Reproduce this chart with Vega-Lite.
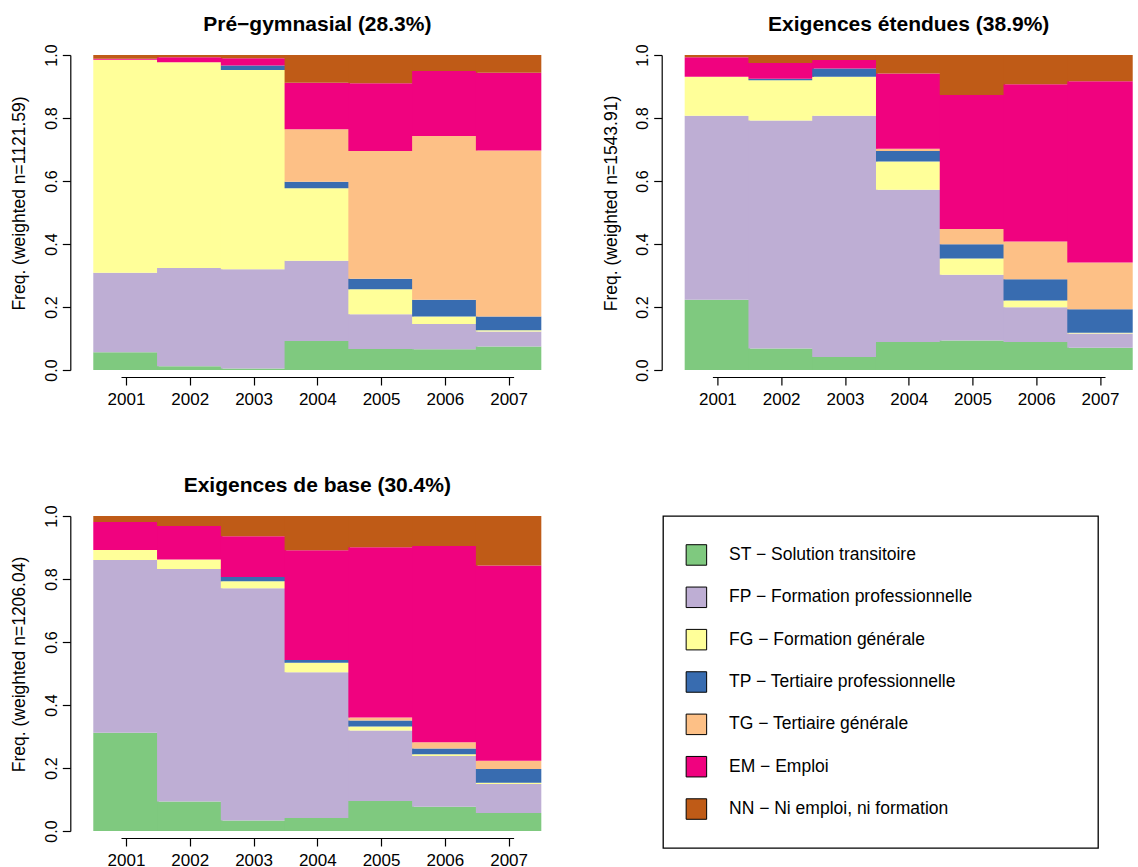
{
  "$schema": "https://vega.github.io/schema/vega-lite/v6.json",
  "padding": {"left": 10, "top": 13, "right": 0, "bottom": 0},
  "background": "white",
  "datasets": {
    "seq": [
      {"g":"P","y":2001,"s":"ST","o":1,"f":0.056},{"g":"P","y":2001,"s":"FP","o":2,"f":0.253},{"g":"P","y":2001,"s":"FG","o":3,"f":0.676},{"g":"P","y":2001,"s":"EM","o":6,"f":0.003},{"g":"P","y":2001,"s":"NN","o":7,"f":0.012},
      {"g":"P","y":2002,"s":"ST","o":1,"f":0.012},{"g":"P","y":2002,"s":"FP","o":2,"f":0.312},{"g":"P","y":2002,"s":"FG","o":3,"f":0.653},{"g":"P","y":2002,"s":"EM","o":6,"f":0.016},{"g":"P","y":2002,"s":"NN","o":7,"f":0.007},
      {"g":"P","y":2003,"s":"ST","o":1,"f":0.005},{"g":"P","y":2003,"s":"FP","o":2,"f":0.315},{"g":"P","y":2003,"s":"FG","o":3,"f":0.632},{"g":"P","y":2003,"s":"TP","o":4,"f":0.015},{"g":"P","y":2003,"s":"EM","o":6,"f":0.023},{"g":"P","y":2003,"s":"NN","o":7,"f":0.010},
      {"g":"P","y":2004,"s":"ST","o":1,"f":0.092},{"g":"P","y":2004,"s":"FP","o":2,"f":0.255},{"g":"P","y":2004,"s":"FG","o":3,"f":0.230},{"g":"P","y":2004,"s":"TP","o":4,"f":0.021},{"g":"P","y":2004,"s":"TG","o":5,"f":0.166},{"g":"P","y":2004,"s":"EM","o":6,"f":0.148},{"g":"P","y":2004,"s":"NN","o":7,"f":0.088},
      {"g":"P","y":2005,"s":"ST","o":1,"f":0.067},{"g":"P","y":2005,"s":"FP","o":2,"f":0.110},{"g":"P","y":2005,"s":"FG","o":3,"f":0.079},{"g":"P","y":2005,"s":"TP","o":4,"f":0.034},{"g":"P","y":2005,"s":"TG","o":5,"f":0.405},{"g":"P","y":2005,"s":"EM","o":6,"f":0.215},{"g":"P","y":2005,"s":"NN","o":7,"f":0.090},
      {"g":"P","y":2006,"s":"ST","o":1,"f":0.066},{"g":"P","y":2006,"s":"FP","o":2,"f":0.080},{"g":"P","y":2006,"s":"FG","o":3,"f":0.024},{"g":"P","y":2006,"s":"TP","o":4,"f":0.053},{"g":"P","y":2006,"s":"TG","o":5,"f":0.520},{"g":"P","y":2006,"s":"EM","o":6,"f":0.206},{"g":"P","y":2006,"s":"NN","o":7,"f":0.051},
      {"g":"P","y":2007,"s":"ST","o":1,"f":0.075},{"g":"P","y":2007,"s":"FP","o":2,"f":0.047},{"g":"P","y":2007,"s":"FG","o":3,"f":0.004},{"g":"P","y":2007,"s":"TP","o":4,"f":0.044},{"g":"P","y":2007,"s":"TG","o":5,"f":0.527},{"g":"P","y":2007,"s":"EM","o":6,"f":0.247},{"g":"P","y":2007,"s":"NN","o":7,"f":0.056},

      {"g":"E","y":2001,"s":"ST","o":1,"f":0.223},{"g":"E","y":2001,"s":"FP","o":2,"f":0.584},{"g":"E","y":2001,"s":"FG","o":3,"f":0.124},{"g":"E","y":2001,"s":"EM","o":6,"f":0.062},{"g":"E","y":2001,"s":"NN","o":7,"f":0.007},
      {"g":"E","y":2002,"s":"ST","o":1,"f":0.068},{"g":"E","y":2002,"s":"FP","o":2,"f":0.724},{"g":"E","y":2002,"s":"FG","o":3,"f":0.128},{"g":"E","y":2002,"s":"TP","o":4,"f":0.005},{"g":"E","y":2002,"s":"EM","o":6,"f":0.050},{"g":"E","y":2002,"s":"NN","o":7,"f":0.025},
      {"g":"E","y":2003,"s":"ST","o":1,"f":0.041},{"g":"E","y":2003,"s":"FP","o":2,"f":0.766},{"g":"E","y":2003,"s":"FG","o":3,"f":0.124},{"g":"E","y":2003,"s":"TP","o":4,"f":0.026},{"g":"E","y":2003,"s":"EM","o":6,"f":0.027},{"g":"E","y":2003,"s":"NN","o":7,"f":0.016},
      {"g":"E","y":2004,"s":"ST","o":1,"f":0.089},{"g":"E","y":2004,"s":"FP","o":2,"f":0.483},{"g":"E","y":2004,"s":"FG","o":3,"f":0.090},{"g":"E","y":2004,"s":"TP","o":4,"f":0.033},{"g":"E","y":2004,"s":"TG","o":5,"f":0.007},{"g":"E","y":2004,"s":"EM","o":6,"f":0.239},{"g":"E","y":2004,"s":"NN","o":7,"f":0.059},
      {"g":"E","y":2005,"s":"ST","o":1,"f":0.094},{"g":"E","y":2005,"s":"FP","o":2,"f":0.208},{"g":"E","y":2005,"s":"FG","o":3,"f":0.052},{"g":"E","y":2005,"s":"TP","o":4,"f":0.045},{"g":"E","y":2005,"s":"TG","o":5,"f":0.049},{"g":"E","y":2005,"s":"EM","o":6,"f":0.425},{"g":"E","y":2005,"s":"NN","o":7,"f":0.127},
      {"g":"E","y":2006,"s":"ST","o":1,"f":0.089},{"g":"E","y":2006,"s":"FP","o":2,"f":0.110},{"g":"E","y":2006,"s":"FG","o":3,"f":0.022},{"g":"E","y":2006,"s":"TP","o":4,"f":0.067},{"g":"E","y":2006,"s":"TG","o":5,"f":0.120},{"g":"E","y":2006,"s":"EM","o":6,"f":0.499},{"g":"E","y":2006,"s":"NN","o":7,"f":0.093},
      {"g":"E","y":2007,"s":"ST","o":1,"f":0.071},{"g":"E","y":2007,"s":"FP","o":2,"f":0.045},{"g":"E","y":2007,"s":"FG","o":3,"f":0.002},{"g":"E","y":2007,"s":"TP","o":4,"f":0.075},{"g":"E","y":2007,"s":"TG","o":5,"f":0.148},{"g":"E","y":2007,"s":"EM","o":6,"f":0.576},{"g":"E","y":2007,"s":"NN","o":7,"f":0.083},

      {"g":"B","y":2001,"s":"ST","o":1,"f":0.312},{"g":"B","y":2001,"s":"FP","o":2,"f":0.548},{"g":"B","y":2001,"s":"FG","o":3,"f":0.032},{"g":"B","y":2001,"s":"EM","o":6,"f":0.089},{"g":"B","y":2001,"s":"NN","o":7,"f":0.019},
      {"g":"B","y":2002,"s":"ST","o":1,"f":0.094},{"g":"B","y":2002,"s":"FP","o":2,"f":0.738},{"g":"B","y":2002,"s":"FG","o":3,"f":0.030},{"g":"B","y":2002,"s":"EM","o":6,"f":0.106},{"g":"B","y":2002,"s":"NN","o":7,"f":0.032},
      {"g":"B","y":2003,"s":"ST","o":1,"f":0.033},{"g":"B","y":2003,"s":"FP","o":2,"f":0.738},{"g":"B","y":2003,"s":"FG","o":3,"f":0.022},{"g":"B","y":2003,"s":"TP","o":4,"f":0.013},{"g":"B","y":2003,"s":"EM","o":6,"f":0.130},{"g":"B","y":2003,"s":"NN","o":7,"f":0.064},
      {"g":"B","y":2004,"s":"ST","o":1,"f":0.041},{"g":"B","y":2004,"s":"FP","o":2,"f":0.463},{"g":"B","y":2004,"s":"FG","o":3,"f":0.030},{"g":"B","y":2004,"s":"TP","o":4,"f":0.009},{"g":"B","y":2004,"s":"EM","o":6,"f":0.348},{"g":"B","y":2004,"s":"NN","o":7,"f":0.109},
      {"g":"B","y":2005,"s":"ST","o":1,"f":0.095},{"g":"B","y":2005,"s":"FP","o":2,"f":0.224},{"g":"B","y":2005,"s":"FG","o":3,"f":0.013},{"g":"B","y":2005,"s":"TP","o":4,"f":0.019},{"g":"B","y":2005,"s":"TG","o":5,"f":0.009},{"g":"B","y":2005,"s":"EM","o":6,"f":0.541},{"g":"B","y":2005,"s":"NN","o":7,"f":0.099},
      {"g":"B","y":2006,"s":"ST","o":1,"f":0.077},{"g":"B","y":2006,"s":"FP","o":2,"f":0.161},{"g":"B","y":2006,"s":"FG","o":3,"f":0.006},{"g":"B","y":2006,"s":"TP","o":4,"f":0.018},{"g":"B","y":2006,"s":"TG","o":5,"f":0.020},{"g":"B","y":2006,"s":"EM","o":6,"f":0.623},{"g":"B","y":2006,"s":"NN","o":7,"f":0.095},
      {"g":"B","y":2007,"s":"ST","o":1,"f":0.057},{"g":"B","y":2007,"s":"FP","o":2,"f":0.092},{"g":"B","y":2007,"s":"FG","o":3,"f":0.004},{"g":"B","y":2007,"s":"TP","o":4,"f":0.044},{"g":"B","y":2007,"s":"TG","o":5,"f":0.026},{"g":"B","y":2007,"s":"EM","o":6,"f":0.620},{"g":"B","y":2007,"s":"NN","o":7,"f":0.157}
    ],
    "leg": [
      {"s":"ST","lab":"ST − Solution transitoire"},
      {"s":"FP","lab":"FP − Formation professionnelle"},
      {"s":"FG","lab":"FG − Formation générale"},
      {"s":"TP","lab":"TP − Tertiaire professionnelle"},
      {"s":"TG","lab":"TG − Tertiaire générale"},
      {"s":"EM","lab":"EM − Emploi"},
      {"s":"NN","lab":"NN − Ni emploi, ni formation"}
    ]
  },
  "config": {
    "view": {"stroke": null},
    "font": "Liberation Sans",
    "axis": {"grid": false, "domainColor": "black", "tickColor": "black", "labelColor": "black", "titleColor": "black", "labelFont": "Liberation Sans", "titleFont": "Liberation Sans", "labelFontSize": 16, "titleFontSize": 17.5, "titleFontWeight": "normal", "tickSize": 8, "labelFlush": false, "labelOverlap": false, "domainWidth": 1.2, "tickWidth": 1.2},
    "title": {"fontSize": 21, "fontWeight": "bold", "color": "black", "font": "Liberation Sans", "baseline": "alphabetic", "offset": 9}
  },
  "spacing": 67,
  "vconcat": [
    {
      "spacing": 198.4,
      "bounds": "flush",
      "hconcat": [
        {
          "width": 392.6, "height": 315,
          "title": "Pré−gymnasial (28.3%)",
          "data": {"name": "seq"},
          "transform": [{"filter": "datum.g === 'P'"}],
          "mark": {"type": "bar", "width": 65.43},
          "encoding": {
            "x": {"field": "y", "type": "quantitative", "scale": {"domain": [2001, 2007], "nice": false, "zero": false}, "axis": {"values": [2001,2002,2003,2004,2005,2006,2007], "format": "d", "title": null, "offset": 7, "labelFontSize": 17, "labelBaseline": "top", "labelPadding": 6}},
            "y": {"field": "f", "type": "quantitative", "stack": "zero", "scale": {"domain": [0, 1], "nice": false}, "axis": {"values": [0,0.2,0.4,0.6,0.8,1], "format": ".1f", "title": "Freq. (weighted n=1121.59)", "offset": 50.7, "labelAngle": 270, "labelAlign": "center", "labelBaseline": "alphabetic", "labelPadding": 6, "titleAngle": 270, "titleAlign": "center", "titleBaseline": "bottom", "titleX": -41.5, "titleY": 148}},
            "color": {"field": "s", "type": "nominal", "scale": {"domain": ["ST","FP","FG","TP","TG","EM","NN"], "range": ["#7FC97F","#BEAED4","#FFFF99","#386CB0","#FDC086","#F0027F","#BF5B17"]}, "legend": null},
            "order": {"field": "o", "type": "quantitative"}
          }
        },
        {
          "width": 392.6, "height": 315,
          "title": "Exigences étendues (38.9%)",
          "data": {"name": "seq"},
          "transform": [{"filter": "datum.g === 'E'"}],
          "mark": {"type": "bar", "width": 65.43},
          "encoding": {
            "x": {"field": "y", "type": "quantitative", "scale": {"domain": [2001, 2007], "nice": false, "zero": false}, "axis": {"values": [2001,2002,2003,2004,2005,2006,2007], "format": "d", "title": null, "offset": 7, "labelFontSize": 17, "labelBaseline": "top", "labelPadding": 6}},
            "y": {"field": "f", "type": "quantitative", "stack": "zero", "scale": {"domain": [0, 1], "nice": false}, "axis": {"values": [0,0.2,0.4,0.6,0.8,1], "format": ".1f", "title": "Freq. (weighted n=1543.91)", "offset": 50.7, "labelAngle": 270, "labelAlign": "center", "labelBaseline": "alphabetic", "labelPadding": 6, "titleAngle": 270, "titleAlign": "center", "titleBaseline": "bottom", "titleX": -41.5, "titleY": 148}},
            "color": {"field": "s", "type": "nominal", "scale": {"domain": ["ST","FP","FG","TP","TG","EM","NN"], "range": ["#7FC97F","#BEAED4","#FFFF99","#386CB0","#FDC086","#F0027F","#BF5B17"]}, "legend": null},
            "order": {"field": "o", "type": "quantitative"}
          }
        }
      ]
    },
    {
      "spacing": 149,
      "bounds": "flush",
      "hconcat": [
        {
          "width": 392.6, "height": 315,
          "title": "Exigences de base (30.4%)",
          "data": {"name": "seq"},
          "transform": [{"filter": "datum.g === 'B'"}],
          "mark": {"type": "bar", "width": 65.43},
          "encoding": {
            "x": {"field": "y", "type": "quantitative", "scale": {"domain": [2001, 2007], "nice": false, "zero": false}, "axis": {"values": [2001,2002,2003,2004,2005,2006,2007], "format": "d", "title": null, "offset": 7, "labelFontSize": 17, "labelBaseline": "top", "labelPadding": 6}},
            "y": {"field": "f", "type": "quantitative", "stack": "zero", "scale": {"domain": [0, 1], "nice": false}, "axis": {"values": [0,0.2,0.4,0.6,0.8,1], "format": ".1f", "title": "Freq. (weighted n=1206.04)", "offset": 50.7, "labelAngle": 270, "labelAlign": "center", "labelBaseline": "alphabetic", "labelPadding": 6, "titleAngle": 270, "titleAlign": "center", "titleBaseline": "bottom", "titleX": -41.5, "titleY": 148}},
            "color": {"field": "s", "type": "nominal", "scale": {"domain": ["ST","FP","FG","TP","TG","EM","NN"], "range": ["#7FC97F","#BEAED4","#FFFF99","#386CB0","#FDC086","#F0027F","#BF5B17"]}, "legend": null},
            "order": {"field": "o", "type": "quantitative"}
          }
        },
        {
          "width": 435, "height": 332,
          "data": {"name": "leg"},
          "view": {"stroke": "black", "strokeWidth": 1.3},
          "encoding": {
            "y": {"field": "s", "type": "nominal", "scale": {"type": "point", "domain": ["ST","FP","FG","TP","TG","EM","NN"], "padding": 0.92}, "axis": null}
          },
          "layer": [
            {
              "mark": {"type": "square", "size": 420, "stroke": "black", "strokeWidth": 1, "opacity": 1, "filled": true},
              "encoding": {
                "x": {"datum": 33.4, "type": "quantitative", "scale": {"domain": [0, 435], "nice": false, "zero": true}, "axis": null},
                "color": {"field": "s", "type": "nominal", "scale": {"domain": ["ST","FP","FG","TP","TG","EM","NN"], "range": ["#7FC97F","#BEAED4","#FFFF99","#386CB0","#FDC086","#F0027F","#BF5B17"]}, "legend": null}
              }
            },
            {
              "mark": {"type": "text", "align": "left", "baseline": "middle", "fontSize": 17.5, "color": "black", "font": "Liberation Sans"},
              "encoding": {
                "x": {"datum": 66, "type": "quantitative", "axis": null},
                "text": {"field": "lab"}
              }
            }
          ]
        }
      ]
    }
  ]
}
